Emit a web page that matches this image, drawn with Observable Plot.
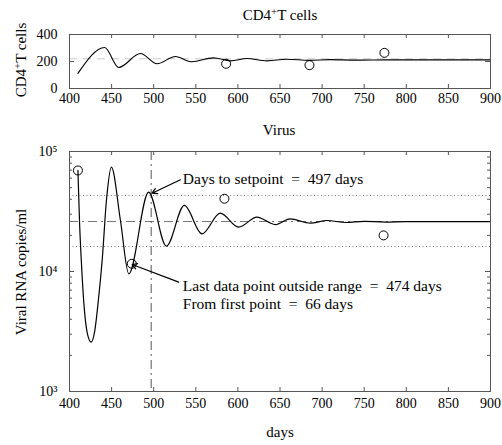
<!DOCTYPE html>
<html><head><meta charset="utf-8">
<script src="https://cdn.jsdelivr.net/npm/d3@7"></script>
<script src="https://cdn.jsdelivr.net/npm/@observablehq/plot@0.6"></script>
<style>
body{margin:0;background:#fff;}
#wrap{position:relative;width:502px;height:445px;font-family:"Liberation Serif","Times New Roman",serif;color:#000;overflow:hidden;}
.lbl{position:absolute;font-size:15px;white-space:nowrap;line-height:1;transform:translate(-50%,-50%);}
.ylbl{position:absolute;font-size:15px;white-space:nowrap;line-height:1;transform:translate(-50%,-50%) rotate(-90deg);}
sup{font-size:0.72em;vertical-align:0.45em;line-height:0;}
#wrap svg{position:absolute;left:0;font-family:"Liberation Serif","Times New Roman",serif !important;}
#wrap svg text{font-family:"Liberation Serif","Times New Roman",serif !important;}
</style></head>
<body><div id="wrap"></div>
<script>
// ---- data ----
const xTicks = [400,450,500,550,600,650,700,750,800,850,900];
const cd4Ticks = [0,200,400];
const virusTicks = [1e3,1e4,1e5];
const virusTickLabels = ["10³","10⁴","10⁵"];
const virusMinor = [2e3,3e3,4e3,5e3,6e3,7e3,8e3,9e3,2e4,3e4,4e4,5e4,6e4,7e4,8e4,9e4];

const cd4Days   = [410,441.8,458.4,484.2,504,525.7,545.4,571,591,610.8,634.5,658,685,710,740,780,900];
const cd4Values = [112,304,156,259,183,237,198,227,205,222,205,217,208,214,210,212,212];
const cd4ObsDays   = [586,685,774];
const cd4ObsValues = [183,173,264];
const cd4Setpoint = 220;

const virusDays   = [410,412,414,417,421,425.7,430,434,438.8,444,449.8,460.5,470.4,494,515,536.4,557.4,579,600.8,622.6,644.4,662,686,705.7,728,750,775,800,900];
const virusValues = [69500,25000,12400,5500,3100,2580,3200,5500,12400,40000,74000,26600,9570,45800,16270,35500,20600,30600,23400,28400,24600,27500,25300,26600,25600,26200,25800,26000,26000];
const virusObsDays   = [410,474,584,773];
const virusObsValues = [69500,11600,40400,20000];
const setpoint = 26100;
const rangeBounds = [43000,16150];
const setpointDay = [497];

const noteTexts  = ["Days to setpoint\u00a0 = \u00a0497 days","Last data point outside range\u00a0 = \u00a0474 days","From first point\u00a0 = \u00a066 days"];
const noteDays   = [534.6,534.6,534.6];
const noteValues = [58400,7540,5380];
const arrowFromDays = [531.7,529.7];
const arrowFromValues = [58100,8150];
const arrowToDays = [498.1,474.4];
const arrowToValues = [44950,11430];

// ---- helpers ----
const zip = (xs, ys) => xs.map((x,i) => ({x, y: ys[i]}));
const W = 502, ML = 69, MR = 12;
const FW = W - ML - MR;
const serif = '"Liberation Serif","Times New Roman",serif';
const font = {fontFamily: serif, fontSize:"14px", background:"transparent", color:"#000"};
const axisStroke = "#555";

function frameTicks(fh, yt, ytMinor) {
  const m = [
    Plot.ruleX(xTicks.slice(1,-1), {x:d=>d, insetTop: fh-4, stroke: axisStroke}),
    Plot.ruleX(xTicks.slice(1,-1), {x:d=>d, insetBottom: fh-4, stroke: axisStroke}),
    Plot.ruleY(yt, {y:d=>d, insetRight: FW-5, stroke: axisStroke}),
    Plot.ruleY(yt, {y:d=>d, insetLeft: FW-5, stroke: axisStroke})
  ];
  if (ytMinor) {
    m.push(Plot.ruleY(ytMinor, {y:d=>d, insetRight: FW-3, stroke: axisStroke}));
    m.push(Plot.ruleY(ytMinor, {y:d=>d, insetLeft: FW-3, stroke: axisStroke}));
  }
  return m;
}

const wrap = document.getElementById("wrap");

// ---- top panel: CD4+ T cells ----
const H1 = 112, MT1 = 34, MB1 = 24;
const p1 = Plot.plot({
  width: W, height: H1, marginLeft: ML, marginRight: MR, marginTop: MT1, marginBottom: MB1,
  style: font,
  x: {domain:[400,900]},
  y: {domain:[0,400]},
  marks: [
    Plot.ruleY([cd4Setpoint], {stroke:"#c8c8c8", strokeDasharray:"8,6"}),
    ...frameTicks(H1-MT1-MB1, cd4Ticks.slice(1,-1)),
    Plot.line(zip(cd4Days, cd4Values), {x:"x", y:"y", curve:"monotone-x", stroke:"#000", strokeWidth:1.1}),
    Plot.dot(zip(cd4ObsDays, cd4ObsValues), {x:"x", y:"y", r:4.5, stroke:"#000", strokeWidth:1, fill:"none"}),
    Plot.axisX(xTicks, {tickSize:0, tickPadding:5, label:null, stroke:axisStroke, fontFamily: serif}),
    Plot.axisY(cd4Ticks, {tickSize:0, tickPadding:12, label:null, fontFamily: serif}),
    Plot.frame({stroke: axisStroke})
  ]
});
p1.style.top = "0px";
wrap.appendChild(p1);

// ---- bottom panel: Virus ----
const TOP2 = 120, H2 = 325, MT2 = 31, MB2 = 54;
const p2 = Plot.plot({
  width: W, height: H2, marginLeft: ML, marginRight: MR, marginTop: MT2, marginBottom: MB2,
  style: font,
  x: {domain:[400,900]},
  y: {type:"log", domain:[1e3,1e5]},
  marks: [
    Plot.ruleY(rangeBounds, {y:d=>d, stroke:"#777", strokeDasharray:"1,2.5"}),
    Plot.ruleY([setpoint], {y:d=>d, stroke:"#777", strokeWidth:1, strokeDasharray:"9,4,2,4"}),
    Plot.ruleX(setpointDay, {x:d=>d, stroke:"#555", strokeWidth:1, strokeDasharray:"9,4,2,4"}),
    ...frameTicks(H2-MT2-MB2, virusTicks.slice(1,-1), virusMinor),
    Plot.line(zip(virusDays, virusValues), {x:"x", y:"y", curve:"monotone-x", stroke:"#000", strokeWidth:1.2}),
    Plot.dot(zip(virusObsDays, virusObsValues), {x:"x", y:"y", r:4.5, stroke:"#000", strokeWidth:1, fill:"none"}),
    Plot.arrow(arrowFromDays.map((d,i)=>({x1:d, y1:arrowFromValues[i], x2:arrowToDays[i], y2:arrowToValues[i]})),
      {x1:"x1", y1:"y1", x2:"x2", y2:"y2", stroke:"#000", strokeWidth:1.2, headLength:7, insetEnd:0, insetStart:0}),
    Plot.text(noteTexts.map((t,i)=>({t, x:noteDays[i], y:noteValues[i]})),
      {x:"x", y:"y", text:"t", textAnchor:"start", lineAnchor:"middle", fontSize:15.5, fontFamily: serif, fill:"#000"}),
    Plot.axisX(xTicks, {tickSize:0, tickPadding:7, label:null, stroke:axisStroke, fontFamily: serif}),
    Plot.axisY(virusTicks, {tickSize:0, tickPadding:12, label:null, fontFamily: serif, tickFormat:(d)=>virusTickLabels[virusTicks.indexOf(d)]}),
    Plot.frame({stroke: axisStroke})
  ]
});
p2.style.top = TOP2 + "px";
wrap.appendChild(p2);

// ---- titles and axis labels ----
function addLabel(html, cls, x, y) {
  const d = document.createElement("div");
  d.className = cls; d.innerHTML = html;
  d.style.left = x + "px"; d.style.top = y + "px";
  wrap.appendChild(d);
}
addLabel("CD4<sup>+</sup>T cells", "lbl", 280, 15);
addLabel("Virus", "lbl", 279, 130);
addLabel("days", "lbl", 280, 432);
addLabel("CD4<sup>+</sup>T cells", "ylbl", 21, 60);
addLabel("Viral RNA copies/ml", "ylbl", 21, 272);
</script>
</body></html>
